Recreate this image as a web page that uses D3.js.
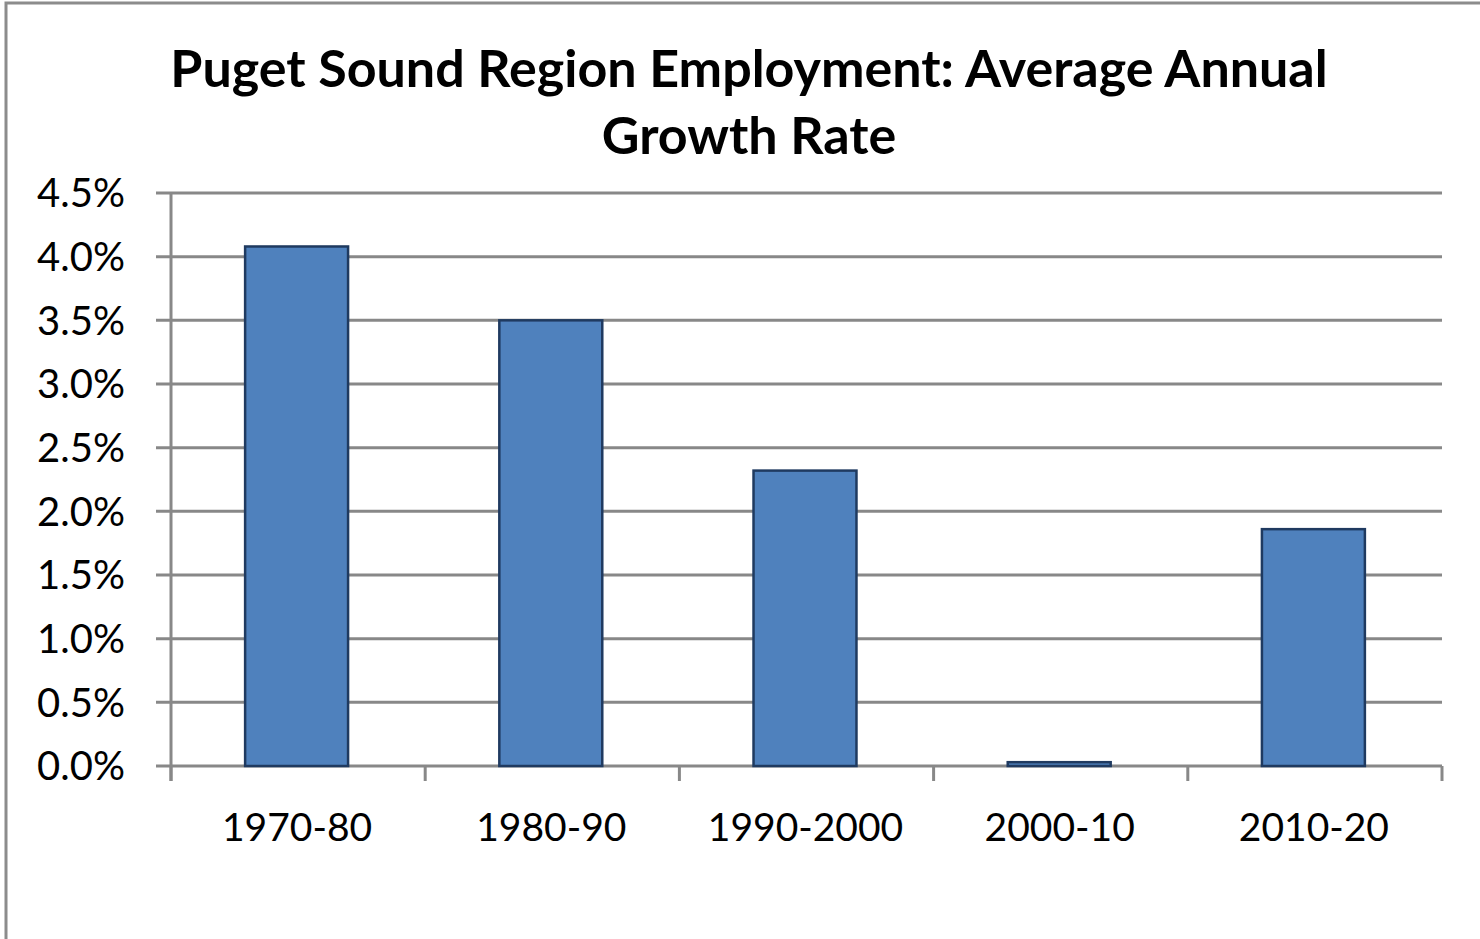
<!DOCTYPE html>
<html>
<head>
<meta charset="utf-8">
<script src="https://cdn.jsdelivr.net/npm/d3@7"></script>
<style>
  body { margin: 0; background: #fff; }
  text { font-family: Lato, "Open Sans", sans-serif; fill: #000; }
</style>
</head>
<body>
<svg id="drawing_region"></svg>
<script>
const categories = ['1970-80', '1980-90', '1990-2000', '2000-10', '2010-20'];
const growth = [4.08, 3.50, 2.32, 0.03, 1.86];
const y_ticks = [0, 0.5, 1.0, 1.5, 2.0, 2.5, 3.0, 3.5, 4.0, 4.5];
const title_lines = ['Puget Sound Region Employment: Average Annual', 'Growth Rate'];

const data = categories.map( (c, i) => ({ label: c, value: growth[i] }) );

let config = {
  parent: '#drawing_region',
  width: 1480,
  height: 939,
  margin: {top:193, right:38, bottom:173, left:171},
};

const svg = d3.select( config.parent )
  .attr('width', config.width)
  .attr('height', config.height);

// outer chart frame (right and bottom edges fall outside the picture)
svg.append('rect')
  .attr('x', 6).attr('y', 3)
  .attr('width', config.width + 20)
  .attr('height', config.height + 20)
  .attr('fill', 'none')
  .attr('stroke', '#8c8c8c')
  .attr('stroke-width', 3);

const chart_width = config.width - config.margin.left - config.margin.right;
const chart_height = config.height - config.margin.top - config.margin.bottom;

const chart = svg.append('g')
  .attr('transform', `translate(${config.margin.left}, ${config.margin.top})`);

const x_scale = d3.scaleBand()
  .domain( categories )
  .range( [0, chart_width] )
  .padding(0);

const y_scale = d3.scaleLinear()
  .domain( [0, 4.5] )
  .range( [chart_height, 0] );

// gridlines
chart.selectAll('.grid')
  .data( y_ticks )
  .enter()
  .append('line')
  .attr('x1', -15)
  .attr('x2', chart_width)
  .attr('y1', d => y_scale(d))
  .attr('y2', d => y_scale(d))
  .attr('stroke', '#888')
  .attr('stroke-width', 3);

// y labels
chart.selectAll('.ylabel')
  .data( y_ticks )
  .enter()
  .append('text')
  .attr('x', -46)
  .attr('y', d => y_scale(d))
  .attr('dy', '0.36em')
  .attr('text-anchor', 'end')
  .attr('font-size', 40)
  .text( d => d.toFixed(1) + '%' );

// y axis line
chart.append('line')
  .attr('x1', 0).attr('x2', 0)
  .attr('y1', 0).attr('y2', chart_height + 15)
  .attr('stroke', '#888')
  .attr('stroke-width', 3);

// x category ticks at band boundaries
const boundaries = categories.map( c => x_scale(c) ).concat([chart_width]);
chart.selectAll('.xtick')
  .data( boundaries )
  .enter()
  .append('line')
  .attr('x1', d => d).attr('x2', d => d)
  .attr('y1', chart_height).attr('y2', chart_height + 15)
  .attr('stroke', '#888')
  .attr('stroke-width', 3);

// bars
const bar_w = x_scale.bandwidth() * 0.405;
chart.selectAll('.bar')
  .data( data )
  .enter()
  .append('rect')
  .attr('x', d => x_scale(d.label) + (x_scale.bandwidth() - bar_w) / 2 - 1.5)
  .attr('y', d => y_scale(d.value))
  .attr('width', bar_w)
  .attr('height', d => chart_height - y_scale(d.value))
  .attr('fill', '#4f81bd')
  .attr('stroke', '#1f3a60')
  .attr('stroke-width', 2.5);

// x labels
chart.selectAll('.xlabel')
  .data( categories )
  .enter()
  .append('text')
  .attr('x', d => x_scale(d) + x_scale.bandwidth() / 2 - 1)
  .attr('y', chart_height + 75)
  .attr('text-anchor', 'middle')
  .attr('font-size', 39)
  .text( d => d );

// title
svg.selectAll('.title')
  .data( title_lines )
  .enter()
  .append('text')
  .attr('x', 749)
  .attr('y', (d, i) => 87 + i * 67)
  .attr('text-anchor', 'middle')
  .attr('font-size', 52)
  .attr('font-weight', 'bold')
  .text( d => d );
</script>
</body>
</html>
